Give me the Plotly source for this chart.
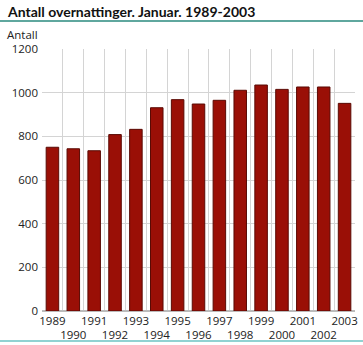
import plotly.graph_objects as go

years = list(range(1989, 2004))
values = [750, 743, 734, 808, 832, 931, 968, 948, 965, 1011, 1035, 1015, 1026, 1026, 951]
tick_labels = [str(y) if i % 2 == 0 else "<br>" + str(y) for i, y in enumerate(years)]
title_text = "Antall overnattinger. Januar. 1989-2003"
y_label = "Antall"

W, H = 363, 345
l, r, t, b = 42, 8, 49, 34
pw, ph = W - l - r, H - t - b
def px(x):
    return (x - l) / pw
def py(y):
    return (H - b - y) / ph

fig = go.Figure()
fig.add_trace(go.Bar(
    x=years, y=values, width=0.6,
    marker=dict(color="#9a0f06", line=dict(color="#5a0a04", width=1)),
))

fig.update_layout(
    width=W, height=H,
    margin=dict(l=l, r=r, t=t, b=b),
    paper_bgcolor="white", plot_bgcolor="white",
    showlegend=False,
    font=dict(family="Open Sans", size=11.5, color="#222"),
    xaxis=dict(
        range=[1988.5, 2003.5], tickmode="array", tickvals=years, ticktext=tick_labels,
        tickangle=0, showgrid=False, zeroline=False, ticks="", showline=False,
        automargin=False, ticklabelstandoff=1,
        minor=dict(tick0=1988.5, dtick=1, showgrid=True, gridcolor="#d4d4d4", gridwidth=1, ticks=""),
        tickfont=dict(size=11.5, color="#222"),
    ),
    yaxis=dict(
        range=[0, 1200], tickmode="array", tickvals=[0, 200, 400, 600, 800, 1000, 1200],
        showgrid=True, gridcolor="#d4d4d4", gridwidth=1, zeroline=True, zerolinecolor="#bbbbbb",
        ticks="", showline=False, automargin=False, ticklabelstandoff=3,
        tickfont=dict(size=11.5, color="#222"),
    ),
    annotations=[
        dict(text="<b>" + title_text + "</b>", x=px(5), y=py(11), xref="paper", yref="paper",
             xanchor="left", yanchor="middle", showarrow=False,
             font=dict(size=14, color="#111", family="Lato")),
        dict(text=y_label, x=px(5), y=py(34), xref="paper", yref="paper", showarrow=False,
             xanchor="left", yanchor="middle", font=dict(size=11.5, color="#222")),
    ],
    shapes=[
        dict(type="line", xref="paper", yref="paper", x0=px(0), x1=px(W), y0=py(21), y1=py(21),
             line=dict(color="#2a8a7e", width=1.5)),
        dict(type="line", xref="paper", yref="paper", x0=px(0), x1=px(W), y0=py(341), y1=py(341),
             line=dict(color="#6cc3c3", width=1.5)),
    ],
)

fig.write_html("out.html")
